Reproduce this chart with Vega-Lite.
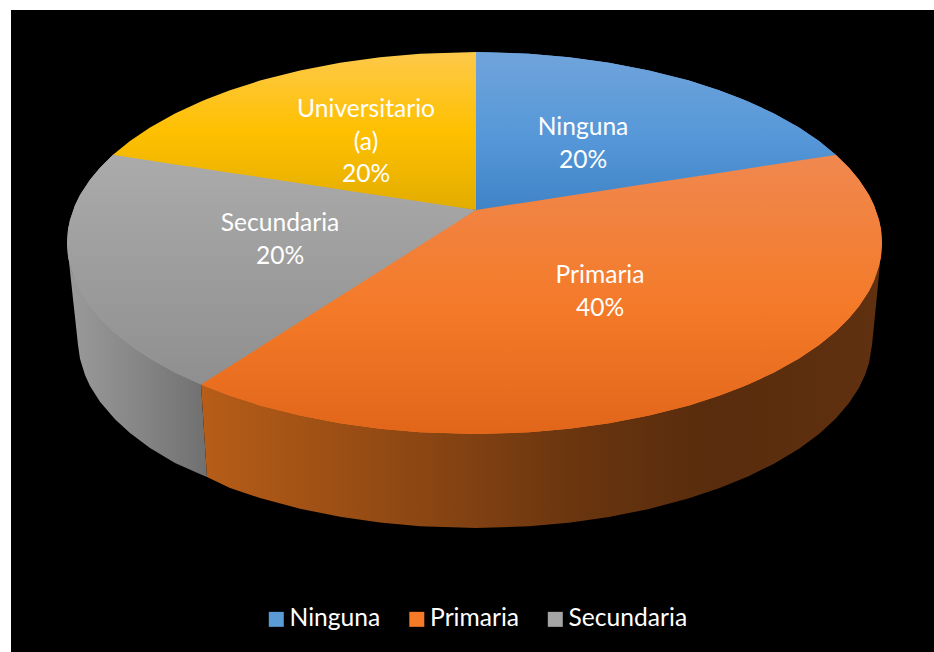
{"$schema":"https://vega.github.io/schema/vega-lite/v6.json","width":934,"height":652,"padding":0,"autosize":{"type":"fit","contains":"padding"},"background":"#ffffff","view":{"stroke":null},
"config":{"font":"Lato"},
"datasets":{
"fondo":[{"x":11,"x2":934,"y":10,"y2":652}],
"etiquetas":[{"x":583,"y":128,"t":"Ninguna\n20%"},{"x":600,"y":276,"t":"Primaria\n40%"},{"x":280,"y":224,"t":"Secundaria\n20%"},{"x":366,"y":110,"t":"Universitario\n(a)\n20%"}],
"ninguna":[{"c":"Ninguna","x":476,"y":52,"y2":211.5},{"c":"Ninguna","x":529,"y":53.7,"y2":203.4},{"c":"Ninguna","x":569,"y":57.2,"y2":197.3},{"c":"Ninguna","x":609,"y":62.7,"y2":191.2},{"c":"Ninguna","x":649,"y":70.4,"y2":185.1},{"c":"Ninguna","x":689,"y":80.6,"y2":179},{"c":"Ninguna","x":719,"y":90.2,"y2":174.4},{"c":"Ninguna","x":742,"y":98.9,"y2":170.9},{"c":"Ninguna","x":748,"y":101.4,"y2":169.9},{"c":"Ninguna","x":774,"y":113.5,"y2":166},{"c":"Ninguna","x":799,"y":127.5,"y2":162.1},{"c":"Ninguna","x":819,"y":141,"y2":159.1},{"c":"Ninguna","x":836,"y":155,"y2":155}],
"primaria":[{"c":"Primaria","x":201,"y":384.6,"y2":384.6},{"c":"Primaria","x":207,"y":379.3,"y2":387.1},{"c":"Primaria","x":230,"y":364.7,"y2":395.8},{"c":"Primaria","x":260,"y":345.6,"y2":405.4},{"c":"Primaria","x":300,"y":320.2,"y2":415.6},{"c":"Primaria","x":340,"y":294.8,"y2":423.3},{"c":"Primaria","x":380,"y":269.5,"y2":428.8},{"c":"Primaria","x":420,"y":244.1,"y2":432.3},{"c":"Primaria","x":476,"y":210,"y2":434},{"c":"Primaria","x":529,"y":201.9,"y2":432.3},{"c":"Primaria","x":569,"y":195.8,"y2":428.8},{"c":"Primaria","x":609,"y":189.7,"y2":423.3},{"c":"Primaria","x":649,"y":183.6,"y2":415.6},{"c":"Primaria","x":689,"y":177.5,"y2":405.4},{"c":"Primaria","x":719,"y":172.9,"y2":395.8},{"c":"Primaria","x":742,"y":169.4,"y2":387.1},{"c":"Primaria","x":748,"y":168.4,"y2":384.6},{"c":"Primaria","x":774,"y":164.5,"y2":372.5},{"c":"Primaria","x":799,"y":160.6,"y2":358.5},{"c":"Primaria","x":819,"y":157.6,"y2":345},{"c":"Primaria","x":836,"y":155,"y2":331.2},{"c":"Primaria","x":849,"y":167.7,"y2":318.3},{"c":"Primaria","x":859,"y":179.7,"y2":306.3},{"c":"Primaria","x":869,"y":195.1,"y2":290.9},{"c":"Primaria","x":874,"y":205.3,"y2":280.7},{"c":"Primaria","x":879,"y":219.9,"y2":266.1},{"c":"Primaria","x":881,"y":229.6,"y2":256.4},{"c":"Primaria","x":882,"y":243,"y2":243}],
"secundaria":[{"c":"Secundaria","x":67,"y":243,"y2":243},{"c":"Secundaria","x":68,"y":229.6,"y2":256.4},{"c":"Secundaria","x":70,"y":219.9,"y2":266.1},{"c":"Secundaria","x":75,"y":205.3,"y2":280.7},{"c":"Secundaria","x":80,"y":195.1,"y2":290.9},{"c":"Secundaria","x":90,"y":179.7,"y2":306.3},{"c":"Secundaria","x":100,"y":167.7,"y2":318.3},{"c":"Secundaria","x":113,"y":154.8,"y2":331.2},{"c":"Secundaria","x":130,"y":156,"y2":345},{"c":"Secundaria","x":150,"y":159,"y2":358.5},{"c":"Secundaria","x":175,"y":162.9,"y2":372.5},{"c":"Secundaria","x":201,"y":166.8,"y2":384.6},{"c":"Secundaria","x":260,"y":176.1,"y2":347.1},{"c":"Secundaria","x":340,"y":187.9,"y2":296.3},{"c":"Secundaria","x":420,"y":200,"y2":245.6},{"c":"Secundaria","x":476,"y":210,"y2":210}],
"universitario":[{"x":113,"y":154.8,"y2":154.8},{"x":130,"y":141,"y2":157.5},{"x":150,"y":127.5,"y2":160.5},{"x":175,"y":113.5,"y2":164.4},{"x":201,"y":101.4,"y2":168.3},{"x":207,"y":98.9,"y2":169.2},{"x":230,"y":90.2,"y2":172.7},{"x":260,"y":80.6,"y2":177.2},{"x":300,"y":70.4,"y2":183.3},{"x":340,"y":62.7,"y2":189.4},{"x":380,"y":57.2,"y2":195.5},{"x":420,"y":53.7,"y2":201.5},{"x":476,"y":52,"y2":210}],
"lado_gris":[{"x":69,"y":261.9,"y2":262},{"x":70,"y":266.1,"y2":271},{"x":73,"y":274.7,"y2":299},{"x":75,"y":279.7,"y2":317},{"x":78,"y":285.6,"y2":345},{"x":80,"y":289.4,"y2":358.8},{"x":85,"y":297.6,"y2":375},{"x":90,"y":304.8,"y2":385.9},{"x":100,"y":316.8,"y2":401.7},{"x":115,"y":331.4,"y2":419.3},{"x":130,"y":343.5,"y2":433},{"x":150,"y":357,"y2":448},{"x":175,"y":371,"y2":463.1},{"x":201,"y":384.6,"y2":474.6},{"x":207,"y":477,"y2":477}],
"lado_naranja":[{"x":201,"y":384.6,"y2":384.6},{"x":207,"y":385.6,"y2":477},{"x":230,"y":394.3,"y2":487.9},{"x":260,"y":403.9,"y2":498},{"x":300,"y":414.1,"y2":508.7},{"x":340,"y":421.8,"y2":516.8},{"x":380,"y":427.3,"y2":522.5},{"x":420,"y":430.8,"y2":526.2},{"x":476,"y":432.5,"y2":528},{"x":529,"y":430.8,"y2":526.3},{"x":569,"y":427.3,"y2":522.7},{"x":609,"y":421.8,"y2":517},{"x":649,"y":414.1,"y2":509},{"x":689,"y":403.9,"y2":498.3},{"x":719,"y":394.3,"y2":488.3},{"x":748,"y":383.1,"y2":476.5},{"x":774,"y":371,"y2":463.7},{"x":799,"y":357,"y2":448.7},{"x":819,"y":343.5,"y2":433.9},{"x":836,"y":329.7,"y2":418.2},{"x":849,"y":316.8,"y2":403},{"x":859,"y":304.8,"y2":387.7},{"x":865,"y":296.1,"y2":375.1},{"x":869,"y":289.4,"y2":363.1},{"x":872,"y":283.5,"y2":345},{"x":875,"y":277.3,"y2":315},{"x":878,"y":268.7,"y2":285},{"x":880,"y":261.9,"y2":262}]
},
"encoding":{
"x":{"field":"x","type":"quantitative","scale":{"domain":[0,934],"nice":false,"zero":false},"axis":null},
"y":{"field":"y","type":"quantitative","scale":{"domain":[652,0],"nice":false,"zero":false},"axis":null},
"y2":{"field":"y2"}
},
"layer":[
{"data":{"name":"fondo"},"mark":{"type":"rect","color":"#000000"},"encoding":{"x2":{"field":"x2"}}},
{"data":{"name":"lado_gris"},"mark":{"type":"area","color":{"gradient":"linear","x1":0,"y1":0,"x2":1,"y2":0,"stops":[{"offset":0,"color":"#9a9a9a"},{"offset":0.5,"color":"#868686"},{"offset":1,"color":"#707070"}]}}},
{"data":{"name":"lado_naranja"},"mark":{"type":"area","color":{"gradient":"linear","x1":0,"y1":0,"x2":1,"y2":0,"stops":[{"offset":0,"color":"#b75d18"},{"offset":0.3,"color":"#8f4813"},{"offset":0.55,"color":"#6a350f"},{"offset":0.75,"color":"#582c0d"},{"offset":1,"color":"#603110"}]}}},
{"data":{"name":"ninguna"},"mark":{"type":"area"},"encoding":{"color":{"field":"c","type":"nominal","scale":{"domain":["Ninguna","Primaria","Secundaria"],"range":["#5b9bd5","#f47a28","#a5a5a5"]},"legend":{"title":null,"orient":"none","legendX":264,"legendY":607,"direction":"horizontal","columns":3,"symbolType":"square","symbolSize":225,"symbolStrokeWidth":0,"symbolOpacity":1,"labelColor":"#ffffff","labelFont":"Lato","labelFontSize":24.6,"labelOffset":1,"columnPadding":23.5,"padding":0,"labelLimit":200}}}},
{"data":{"name":"primaria"},"mark":{"type":"area"},"encoding":{"color":{"field":"c","type":"nominal"}}},
{"data":{"name":"secundaria"},"mark":{"type":"area"},"encoding":{"color":{"field":"c","type":"nominal"}}},
{"data":{"name":"ninguna"},"mark":{"type":"area","color":{"gradient":"linear","x1":0,"y1":0,"x2":0,"y2":1,"stops":[{"offset":0,"color":"#70a4db"},{"offset":0.55,"color":"#5597d8"},{"offset":1,"color":"#3f83c6"}]}}},
{"data":{"name":"primaria"},"mark":{"type":"area","color":{"gradient":"linear","x1":0,"y1":0,"x2":0,"y2":1,"stops":[{"offset":0,"color":"#f0884f"},{"offset":0.55,"color":"#f47a28"},{"offset":1,"color":"#e2661a"}]}}},
{"data":{"name":"secundaria"},"mark":{"type":"area","color":{"gradient":"linear","x1":0,"y1":0,"x2":0,"y2":1,"stops":[{"offset":0,"color":"#ababab"},{"offset":1,"color":"#8f8f8f"}]}}},
{"data":{"name":"universitario"},"mark":{"type":"area","color":{"gradient":"linear","x1":0,"y1":0,"x2":0,"y2":1,"stops":[{"offset":0,"color":"#fdc94a"},{"offset":0.5,"color":"#ffc000"},{"offset":1,"color":"#e2ad00"}]}}},
{"data":{"name":"etiquetas"},"mark":{"type":"text","color":"#ffffff","font":"Lato","fontSize":24.6,"lineHeight":32.5,"lineBreak":"\n","align":"center","baseline":"middle"},"encoding":{"text":{"field":"t"},"y2":null}}
]}
